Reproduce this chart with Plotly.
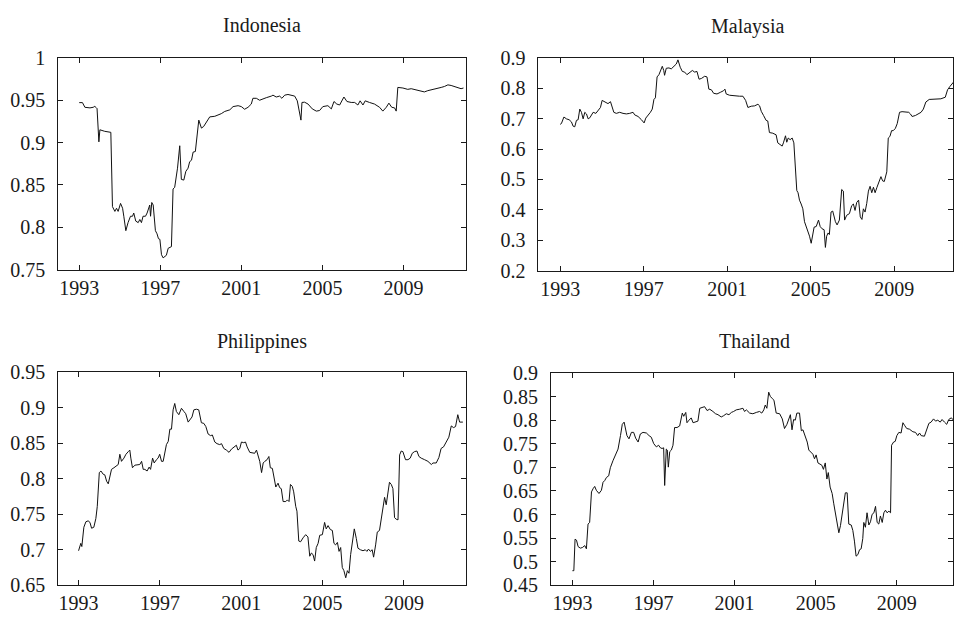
import plotly.graph_objects as go

# ---------------- data (decimal years) ----------------
indonesia_x = [1993.00, 1993.16, 1993.28, 1993.53, 1993.69, 1993.77, 1993.85, 1993.88, 1993.97, 1994.02,
               1994.26, 1994.51, 1994.56, 1994.64, 1994.76, 1994.84, 1994.92, 1995.04, 1995.14, 1995.20,
               1995.30, 1995.41, 1995.53, 1995.63, 1995.69, 1995.79, 1995.91, 1995.99, 1996.07, 1996.15,
               1996.27, 1996.35, 1996.43, 1996.48, 1996.52, 1996.58, 1996.65, 1996.70, 1996.76, 1996.84,
               1996.91, 1996.98, 1997.06, 1997.14, 1997.22, 1997.30, 1997.39, 1997.55, 1997.63, 1997.71,
               1997.85, 1997.96, 1998.04, 1998.16, 1998.26, 1998.37, 1998.45, 1998.54, 1998.62, 1998.73,
               1998.90, 1999.03, 1999.14, 1999.28, 1999.44, 1999.69, 1999.85, 2000.01, 2000.18, 2000.43,
               2000.59, 2000.84, 2001.00, 2001.16, 2001.33, 2001.49, 2001.57, 2001.74, 2001.90, 2002.07,
               2002.23, 2002.48, 2002.56, 2002.72, 2002.89, 2003.00, 2003.14, 2003.30, 2003.51, 2003.63,
               2003.76, 2003.94, 2003.99, 2004.12, 2004.29, 2004.50, 2004.70, 2004.86, 2005.02, 2005.27,
               2005.44, 2005.57, 2005.71, 2005.85, 2006.06, 2006.21, 2006.42, 2006.59, 2006.75, 2006.86,
               2007.00, 2007.11, 2007.32, 2007.57, 2007.82, 2007.98, 2008.15, 2008.28, 2008.42, 2008.56,
               2008.64, 2008.72, 2008.97, 2009.21, 2009.38, 2009.62, 2009.82, 2010.03, 2010.20, 2010.45,
               2010.61, 2010.86, 2011.02, 2011.19, 2011.35, 2011.59, 2011.84, 2011.96]
indonesia_y = [0.947, 0.947, 0.9415, 0.9408, 0.9415, 0.9426, 0.9408, 0.940, 0.9008, 0.915,
               0.9132, 0.9121, 0.912, 0.8245, 0.8189, 0.8226, 0.8189, 0.8283, 0.8226, 0.8132,
               0.7962, 0.8057, 0.8132, 0.8132, 0.817, 0.8075, 0.8057, 0.8094, 0.8057, 0.8132,
               0.8132, 0.817, 0.8215, 0.8264, 0.8132, 0.8294, 0.8264, 0.8132, 0.7962, 0.7925,
               0.7868, 0.786, 0.7679, 0.7642, 0.766, 0.7672, 0.7755, 0.7774, 0.8453, 0.8472,
               0.8698, 0.8962, 0.8566, 0.8558, 0.866, 0.8698, 0.8774, 0.8792, 0.8887, 0.8894,
               0.9264, 0.917, 0.9189, 0.9245, 0.9302, 0.9309, 0.9321, 0.934, 0.9366, 0.9385,
               0.9423, 0.9434, 0.9423, 0.9392, 0.9415, 0.9453, 0.9521, 0.9521, 0.9498, 0.9509,
               0.9528, 0.9547, 0.9558, 0.9536, 0.9547, 0.9521, 0.9558, 0.9566, 0.9558, 0.9547,
               0.9491, 0.9264, 0.9472, 0.9475, 0.9453, 0.9396, 0.937, 0.9377, 0.9423, 0.9434,
               0.9396, 0.9483, 0.9453, 0.9442, 0.9536, 0.9483, 0.9472, 0.9472, 0.9442, 0.9491,
               0.9442, 0.9491, 0.9472, 0.9453, 0.9415, 0.937, 0.9415, 0.9464, 0.9415, 0.9408,
               0.937, 0.9649, 0.9642, 0.9626, 0.9634, 0.9623, 0.9611, 0.9596, 0.9611, 0.9623,
               0.963, 0.9649, 0.966, 0.9679, 0.9672, 0.9649, 0.9634, 0.9642]

malaysia_x = [1993.00, 1993.06, 1993.18, 1993.30, 1993.43, 1993.54, 1993.62, 1993.70, 1993.78, 1993.86,
              1993.94, 1994.02, 1994.10, 1994.18, 1994.26, 1994.34, 1994.42, 1994.50, 1994.58, 1994.71,
              1994.82, 1994.93, 1995.01, 1995.14, 1995.29, 1995.41, 1995.50, 1995.57, 1995.69, 1995.85,
              1996.01, 1996.17, 1996.33, 1996.49, 1996.57, 1996.73, 1996.89, 1997.02, 1997.10, 1997.21,
              1997.32, 1997.41, 1997.49, 1997.56, 1997.64, 1997.73, 1997.80, 1997.89, 1997.96, 1998.00,
              1998.08, 1998.21, 1998.32, 1998.43, 1998.56, 1998.64, 1998.75, 1998.85, 1998.96, 1999.07,
              1999.20, 1999.33, 1999.44, 1999.55, 1999.65, 1999.76, 1999.92, 2000.03, 2000.12, 2000.24,
              2000.35, 2000.51, 2000.67, 2000.82, 2000.89, 2000.95, 2001.11, 2001.35, 2001.59, 2001.75,
              2001.88, 2001.99, 2002.15, 2002.31, 2002.47, 2002.55, 2002.63, 2002.74, 2002.86, 2002.94,
              2003.02, 2003.18, 2003.34, 2003.42, 2003.53, 2003.63, 2003.69, 2003.79, 2003.85, 2003.92,
              2004.01, 2004.11, 2004.19, 2004.25, 2004.33, 2004.39, 2004.46, 2004.54, 2004.62, 2004.70,
              2004.78, 2004.86, 2004.94, 2005.02, 2005.10, 2005.16, 2005.26, 2005.37, 2005.45, 2005.54,
              2005.64, 2005.70, 2005.76, 2005.83, 2005.89, 2005.97, 2006.05, 2006.18, 2006.26, 2006.37,
              2006.48, 2006.56, 2006.62, 2006.72, 2006.85, 2006.96, 2007.04, 2007.12, 2007.20, 2007.29,
              2007.37, 2007.45, 2007.52, 2007.60, 2007.68, 2007.76, 2007.84, 2007.92, 2008.00, 2008.08,
              2008.17, 2008.28, 2008.36, 2008.44, 2008.52, 2008.64, 2008.71, 2008.79, 2008.87, 2008.95,
              2009.05, 2009.14, 2009.25, 2009.37, 2009.56, 2009.69, 2009.77, 2009.85, 2010.01, 2010.12,
              2010.28, 2010.39, 2010.51, 2010.67, 2010.83, 2010.99, 2011.23, 2011.44, 2011.55, 2011.66,
              2011.80, 2011.90]
malaysia_y = [0.681, 0.6835, 0.705, 0.699, 0.696, 0.689, 0.675, 0.673, 0.694, 0.696,
              0.731, 0.7205, 0.699, 0.7205, 0.715, 0.699, 0.7025, 0.71, 0.7205, 0.717,
              0.7258, 0.7363, 0.7596, 0.7543, 0.749, 0.7553, 0.7384, 0.7205, 0.717, 0.7205,
              0.717, 0.7152, 0.717, 0.7205, 0.712, 0.7068, 0.6962, 0.6856, 0.7015, 0.71,
              0.7205, 0.731, 0.7627, 0.768, 0.8366, 0.844, 0.8578, 0.8715, 0.8578, 0.8419,
              0.865, 0.8662, 0.863, 0.8715, 0.8789, 0.8926, 0.8683, 0.8546, 0.8525, 0.844,
              0.8525, 0.8578, 0.8525, 0.8546, 0.8292, 0.8314, 0.8388, 0.8366, 0.7965, 0.7944,
              0.7828, 0.7807, 0.786, 0.7912, 0.7965, 0.7807, 0.7765, 0.7743, 0.7733, 0.7733,
              0.7596, 0.7363, 0.7405, 0.7416, 0.7469, 0.7416, 0.7237, 0.71, 0.6941, 0.692,
              0.654, 0.6519, 0.6466, 0.6202, 0.6149, 0.6096, 0.6202, 0.6434, 0.6223, 0.636,
              0.6307, 0.636, 0.6202, 0.5568, 0.4639, 0.4565, 0.4322, 0.4195, 0.4037, 0.3614,
              0.3456, 0.335, 0.3139, 0.2907, 0.3245, 0.3435, 0.3456, 0.3667, 0.3456, 0.3382,
              0.335, 0.277, 0.3139, 0.3245, 0.3192, 0.3931, 0.3963, 0.3614, 0.3509, 0.3667,
              0.467, 0.4618, 0.3667, 0.3826, 0.3879, 0.4142, 0.4195, 0.3984, 0.4248, 0.4322,
              0.3773, 0.3688, 0.4037, 0.3931, 0.4216, 0.4618, 0.4776, 0.4565, 0.4745, 0.4565,
              0.4745, 0.4934, 0.5093, 0.4955, 0.4934, 0.5251, 0.636, 0.6413, 0.6603, 0.6603,
              0.6677, 0.6835, 0.7205, 0.7226, 0.7205, 0.7205, 0.7152, 0.7068, 0.71, 0.7152,
              0.7205, 0.731, 0.7543, 0.7627, 0.7627, 0.7627, 0.7648, 0.77, 0.7944, 0.805,
              0.8187, 0.825]

philippines_x = [1993.00, 1993.07, 1993.11, 1993.16, 1993.26, 1993.36, 1993.47, 1993.56, 1993.64, 1993.75,
                 1993.85, 1993.92, 1994.02, 1994.10, 1994.21, 1994.29, 1994.38, 1994.46, 1994.54, 1994.62,
                 1994.74, 1994.87, 1994.95, 1995.03, 1995.11, 1995.23, 1995.33, 1995.44, 1995.52, 1995.57,
                 1995.65, 1995.77, 1995.88, 1996.01, 1996.10, 1996.18, 1996.26, 1996.37, 1996.47, 1996.54,
                 1996.64, 1996.72, 1996.83, 1996.91, 1996.99, 1997.08, 1997.16, 1997.24, 1997.32, 1997.41,
                 1997.49, 1997.57, 1997.65, 1997.73, 1997.81, 1997.93, 1998.06, 1998.18, 1998.27, 1998.39,
                 1998.50, 1998.58, 1998.67, 1998.80, 1998.91, 1998.96, 1999.04, 1999.16, 1999.26, 1999.37,
                 1999.49, 1999.58, 1999.70, 1999.81, 1999.94, 2000.03, 2000.14, 2000.27, 2000.40, 2000.52,
                 2000.63, 2000.76, 2000.84, 2000.93, 2001.01, 2001.12, 2001.21, 2001.29, 2001.42, 2001.55,
                 2001.66, 2001.75, 2001.83, 2001.91, 2002.00, 2002.08, 2002.16, 2002.27, 2002.36, 2002.43,
                 2002.53, 2002.61, 2002.70, 2002.81, 2002.89, 2002.97, 2003.06, 2003.19, 2003.27, 2003.35,
                 2003.42, 2003.51, 2003.58, 2003.68, 2003.74, 2003.83, 2003.92, 2004.04, 2004.17, 2004.28,
                 2004.37, 2004.45, 2004.53, 2004.61, 2004.69, 2004.78, 2004.86, 2004.99, 2005.10, 2005.18,
                 2005.27, 2005.38, 2005.48, 2005.56, 2005.64, 2005.73, 2005.81, 2005.89, 2005.97, 2006.05,
                 2006.14, 2006.22, 2006.30, 2006.38, 2006.46, 2006.56, 2006.66, 2006.74, 2006.86, 2006.99,
                 2007.10, 2007.18, 2007.26, 2007.35, 2007.44, 2007.51, 2007.61, 2007.69, 2007.80, 2007.93,
                 2008.05, 2008.13, 2008.21, 2008.29, 2008.38, 2008.46, 2008.54, 2008.62, 2008.71, 2008.79,
                 2008.87, 2008.95, 2009.08, 2009.20, 2009.31, 2009.41, 2009.52, 2009.64, 2009.74, 2009.85,
                 2010.02, 2010.18, 2010.35, 2010.43, 2010.59, 2010.72, 2010.83, 2010.95, 2011.08, 2011.21,
                 2011.33, 2011.44, 2011.54, 2011.65, 2011.74, 2011.90]
philippines_y = [0.6988, 0.707, 0.7092, 0.7047, 0.7318, 0.7395, 0.7408, 0.7386, 0.7304, 0.7318,
                 0.744, 0.7611, 0.8086, 0.8108, 0.8063, 0.8054, 0.7964, 0.7928, 0.8041, 0.8131,
                 0.8154, 0.8176, 0.8199, 0.8343, 0.8244, 0.8289, 0.8343, 0.8379, 0.8402, 0.8289,
                 0.8154, 0.819, 0.819, 0.8199, 0.8244, 0.8131, 0.8131, 0.8108, 0.8163, 0.8131,
                 0.8289, 0.8221, 0.8267, 0.8289, 0.8343, 0.8244, 0.8244, 0.8379, 0.8479, 0.8524,
                 0.8696, 0.8696, 0.8967, 0.9057, 0.8944, 0.8899, 0.8989, 0.8944, 0.8913, 0.8795,
                 0.884, 0.8867, 0.8967, 0.8976, 0.8967, 0.8899, 0.8786, 0.8777, 0.8732, 0.8628,
                 0.8605, 0.8614, 0.8515, 0.8492, 0.8479, 0.8492, 0.8425, 0.8402, 0.837, 0.8416,
                 0.8447, 0.847, 0.8402, 0.8425, 0.8515, 0.8506, 0.8515, 0.8447, 0.837, 0.8357,
                 0.8357, 0.8402, 0.8334, 0.8244, 0.8086, 0.8221, 0.8244, 0.8267, 0.8312, 0.8154,
                 0.8145, 0.8027, 0.7883, 0.7937, 0.7874, 0.786, 0.7679, 0.7679, 0.7702, 0.7679,
                 0.7919, 0.7892, 0.7815, 0.7611, 0.7544, 0.7124, 0.7114, 0.7169, 0.7214, 0.7182,
                 0.6911, 0.6956, 0.6934, 0.6843, 0.7033, 0.7092, 0.7205, 0.7214, 0.7386, 0.7295,
                 0.7341, 0.7286, 0.7273, 0.7092, 0.707, 0.7105, 0.6979, 0.7033, 0.6753, 0.6708,
                 0.6608, 0.6708, 0.6672, 0.6934, 0.707, 0.7295, 0.716, 0.7024, 0.7002, 0.6988,
                 0.7002, 0.6979, 0.7011, 0.6979, 0.7002, 0.6898, 0.707, 0.725, 0.7273, 0.7498,
                 0.7738, 0.7634, 0.7792, 0.795, 0.7919, 0.786, 0.7453, 0.7431, 0.7422, 0.8334,
                 0.8389, 0.838, 0.8267, 0.8267, 0.8289, 0.8357, 0.838, 0.8389, 0.8312, 0.8289,
                 0.8267, 0.8244, 0.8199, 0.8221, 0.8221, 0.8298, 0.8425, 0.8447, 0.8515, 0.8583,
                 0.8741, 0.8718, 0.8732, 0.8899, 0.8795, 0.8795]

thailand_x = [1993.00, 1993.07, 1993.13, 1993.20, 1993.28, 1993.39, 1993.49, 1993.61, 1993.69, 1993.77,
              1993.85, 1993.94, 1994.02, 1994.10, 1994.18, 1994.31, 1994.43, 1994.51, 1994.59, 1994.68,
              1994.79, 1994.87, 1995.00, 1995.14, 1995.25, 1995.37, 1995.46, 1995.55, 1995.63, 1995.69,
              1995.79, 1995.91, 1996.02, 1996.12, 1996.24, 1996.35, 1996.48, 1996.65, 1996.78, 1996.89,
              1997.01, 1997.14, 1997.25, 1997.34, 1997.42, 1997.50, 1997.55, 1997.63, 1997.68, 1997.73,
              1997.80, 1997.88, 1997.96, 1998.04, 1998.16, 1998.29, 1998.42, 1998.49, 1998.59, 1998.65,
              1998.75, 1998.86, 1998.95, 1999.06, 1999.19, 1999.28, 1999.39, 1999.52, 1999.64, 1999.77,
              1999.93, 2000.06, 2000.18, 2000.34, 2000.46, 2000.59, 2000.72, 2000.84, 2000.95, 2001.08,
              2001.25, 2001.41, 2001.49, 2001.58, 2001.74, 2001.90, 2002.07, 2002.23, 2002.34, 2002.44,
              2002.51, 2002.59, 2002.68, 2002.76, 2002.86, 2002.94, 2003.05, 2003.22, 2003.35, 2003.46,
              2003.58, 2003.68, 2003.75, 2003.83, 2003.91, 2003.99, 2004.07, 2004.20, 2004.29, 2004.37,
              2004.48, 2004.58, 2004.66, 2004.78, 2004.86, 2004.94, 2005.02, 2005.11, 2005.19, 2005.30,
              2005.38, 2005.47, 2005.55, 2005.62, 2005.71, 2005.81, 2005.89, 2005.97, 2006.06, 2006.14,
              2006.22, 2006.30, 2006.38, 2006.46, 2006.55, 2006.63, 2006.75, 2006.83, 2006.91, 2006.99,
              2007.08, 2007.16, 2007.24, 2007.32, 2007.37, 2007.45, 2007.53, 2007.62, 2007.70, 2007.78,
              2007.87, 2007.95, 2008.03, 2008.11, 2008.19, 2008.28, 2008.36, 2008.44, 2008.52, 2008.61,
              2008.69, 2008.74, 2008.84, 2008.92, 2009.00, 2009.10, 2009.21, 2009.30, 2009.38, 2009.49,
              2009.62, 2009.79, 2009.92, 2010.03, 2010.12, 2010.20, 2010.36, 2010.48, 2010.58, 2010.69,
              2010.81, 2010.91, 2011.02, 2011.14, 2011.23, 2011.35, 2011.46, 2011.56, 2011.68, 2011.77,
              2011.90]
thailand_y = [0.4813, 0.4813, 0.548, 0.546, 0.5324, 0.529, 0.5303, 0.5344, 0.5276, 0.58,
              0.5834, 0.6481, 0.6549, 0.6597, 0.6515, 0.6447, 0.6515, 0.6685, 0.6719, 0.6787,
              0.6821, 0.6992, 0.7141, 0.7278, 0.7387, 0.7672, 0.7911, 0.7958, 0.7809, 0.7672,
              0.7604, 0.7741, 0.7741, 0.7618, 0.7536, 0.7707, 0.7741, 0.7727, 0.7672, 0.7638,
              0.7502, 0.7434, 0.7468, 0.7414, 0.74, 0.7414, 0.6617, 0.7387, 0.7366, 0.7005,
              0.7332, 0.7366, 0.7468, 0.7843, 0.7843, 0.7877, 0.8149, 0.8081, 0.8163, 0.7945,
              0.7999, 0.8047, 0.7945, 0.7958, 0.7979, 0.8251, 0.8265, 0.8285, 0.8203, 0.8231,
              0.8183, 0.8135, 0.8115, 0.8067, 0.8094, 0.8135, 0.8115, 0.8163, 0.8183, 0.8217,
              0.8231, 0.8251, 0.8183, 0.8217, 0.8149, 0.8135, 0.8163, 0.8183, 0.8149, 0.8217,
              0.8319, 0.8251, 0.8592, 0.8503, 0.8455, 0.8421, 0.8149, 0.8135, 0.8026, 0.7822,
              0.7911, 0.8013, 0.8115, 0.7795, 0.8013, 0.7999, 0.8149, 0.8149, 0.7775, 0.7795,
              0.7672, 0.7536, 0.7366, 0.7298, 0.7278, 0.7182, 0.7264, 0.7094, 0.7073, 0.7046,
              0.6958, 0.7094, 0.6753, 0.689, 0.6583, 0.6447, 0.6229, 0.6039, 0.5834, 0.5616,
              0.5766, 0.6005, 0.6175, 0.6461, 0.6461, 0.58, 0.578, 0.5664, 0.5439, 0.512,
              0.5154, 0.5256, 0.5276, 0.5494, 0.5834, 0.5732, 0.6039, 0.578, 0.5848, 0.6005,
              0.6039, 0.6175, 0.5834, 0.58, 0.5971, 0.5834, 0.6039, 0.6093, 0.6039, 0.6073,
              0.6039, 0.7468, 0.7536, 0.755, 0.7672, 0.7741, 0.7727, 0.7945, 0.789, 0.7822,
              0.7809, 0.7754, 0.7741, 0.7672, 0.7727, 0.7672, 0.7659, 0.7809, 0.7931, 0.7958,
              0.8026, 0.7979, 0.7999, 0.7958, 0.8013, 0.7958, 0.7911, 0.8013, 0.8047, 0.8013,
              0.805]

titles = ["Indonesia", "Malaysia", "Philippines", "Thailand"]
year_ticks = [1993, 1997, 2001, 2005, 2009]
year_labels = ["1993", "1997", "2001", "2005", "2009"]
indo_ticks = [0.75, 0.8, 0.85, 0.9, 0.95, 1.0]
indo_labels = ["0.75", "0.8", "0.85", "0.9", "0.95", "1"]
mal_ticks = [0.2, 0.3, 0.4, 0.5, 0.6, 0.7, 0.8, 0.9]
mal_labels = ["0.2", "0.3", "0.4", "0.5", "0.6", "0.7", "0.8", "0.9"]
phi_ticks = [0.65, 0.7, 0.75, 0.8, 0.85, 0.9, 0.95]
phi_labels = ["0.65", "0.7", "0.75", "0.8", "0.85", "0.9", "0.95"]
tha_ticks = [0.45, 0.5, 0.55, 0.6, 0.65, 0.7, 0.75, 0.8, 0.85, 0.9]
tha_labels = ["0.45", "0.5", "0.55", "0.6", "0.65", "0.7", "0.75", "0.8", "0.85", "0.9"]

# ---------------- figure ----------------
W, H = 954, 629
FONT = "Liberation Serif, Times New Roman, serif"
INK = "#1a1a1a"

series = [(indonesia_x, indonesia_y), (malaysia_x, malaysia_y),
          (philippines_x, philippines_y), (thailand_x, thailand_y)]

# pixel boxes: left, right, top, bottom ; x ranges ; y ranges
boxes = [(58.3, 466.0, 48.3, 268.3), (539.0, 954.0, 48.3, 269.3),
         (58.3, 466.0, 374.0, 595.3), (551.7, 954.0, 375.0, 595.3)]
xranges = [[1991.965, 2012.06], [1991.96, 2011.81], [1992.0, 2012.03], [1991.95, 2011.77]]
yranges = [[0.75, 1.0], [0.2, 0.9], [0.65, 0.95], [0.45, 0.9]]
yticks = [(indo_ticks, indo_labels), (mal_ticks, mal_labels), (phi_ticks, phi_labels), (tha_ticks, tha_labels)]
title_pos = [(262, 15), (748, 16), (262, 342), (755, 342)]

fig = go.Figure()
layout = dict(width=W, height=H, margin=dict(l=0, r=0, t=0, b=0),
              paper_bgcolor="white", plot_bgcolor="white", showlegend=False,
              font=dict(family=FONT, size=20, color=INK))
annotations = []
for i, ((xs, ys), (l, r, t, b)) in enumerate(zip(series, boxes)):
    n = "" if i == 0 else str(i + 1)
    fig.add_trace(go.Scatter(x=xs, y=ys, mode="lines", line=dict(color="#111111", width=1),
                             xaxis="x" + n, yaxis="y" + n, hoverinfo="skip"))
    common = dict(showline=True, linecolor=INK, linewidth=1, mirror="ticks", ticks="inside",
                  ticklen=5, tickwidth=1, tickcolor=INK, showgrid=False, zeroline=False,
                  tickfont=dict(family=FONT, size=20, color=INK))
    layout["xaxis" + n] = dict(domain=[l / W, r / W], range=xranges[i], anchor="y" + n,
                               tickmode="array", tickvals=year_ticks, ticktext=year_labels,
                               ticklabelstandoff=0, **common)
    layout["yaxis" + n] = dict(domain=[1 - b / H, 1 - t / H], range=yranges[i], anchor="x" + n,
                               tickmode="array", tickvals=yticks[i][0], ticktext=yticks[i][1],
                               ticklabelstandoff=8, **common)
    annotations.append(dict(text=titles[i], x=title_pos[i][0] / W, y=1 - title_pos[i][1] / H,
                            xref="paper", yref="paper", xanchor="center", yanchor="middle",
                            showarrow=False, font=dict(family=FONT, size=20, color=INK)))
layout["annotations"] = annotations
fig.update_layout(**layout)
fig.write_html("out.html")
